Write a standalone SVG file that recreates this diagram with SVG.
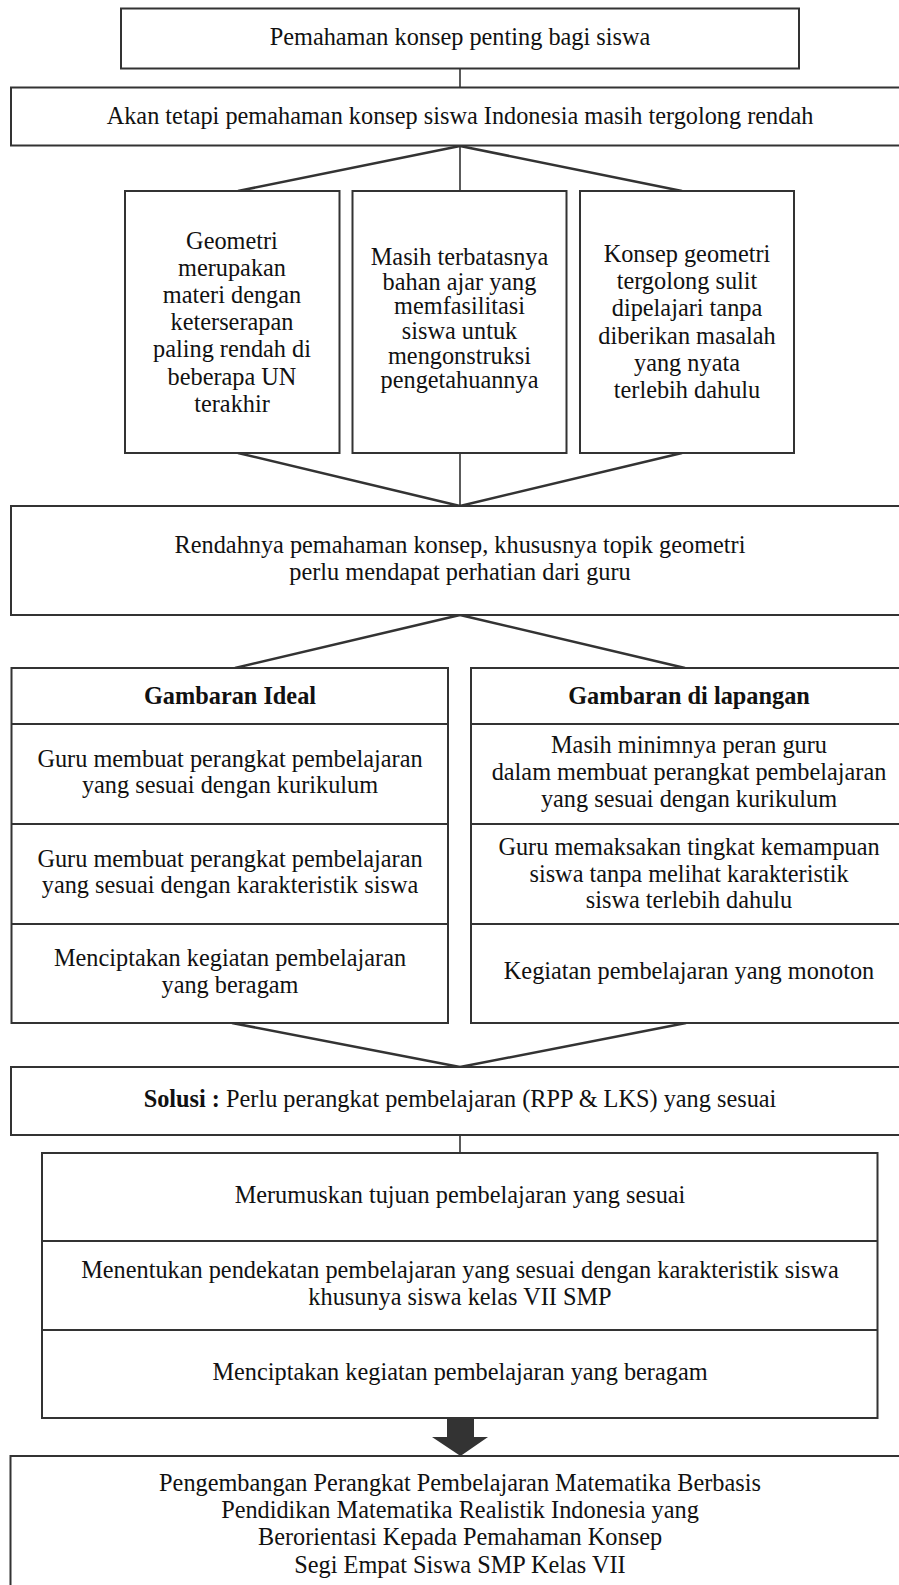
<svg xmlns="http://www.w3.org/2000/svg" width="899" height="1585" viewBox="0 0 899 1585">
<style>
.box{fill:#fff;stroke:#333;stroke-width:2}
.div{stroke:#333;stroke-width:2;fill:none}
.t{font-family:"Liberation Serif","Times New Roman",serif;font-size:24.3px;fill:#111;text-anchor:middle}
.b{font-weight:bold}
.c{stroke:#333;fill:none}
.d{stroke-width:2.5}
.v{stroke-width:1.6}
</style>
<rect width="899" height="1585" fill="#fff"/>
<g id="connectors">
<line class="c v" x1="460" y1="68" x2="460" y2="87"/>
<line class="c d" x1="460" y1="146" x2="238" y2="191"/>
<line class="c v" x1="460" y1="146" x2="460" y2="191"/>
<line class="c d" x1="460" y1="146" x2="682" y2="191"/>
<line class="c d" x1="238" y1="453" x2="460" y2="506"/>
<line class="c v" x1="460" y1="453" x2="460" y2="506"/>
<line class="c d" x1="682" y1="453" x2="460" y2="506"/>
<line class="c d" x1="460" y1="615" x2="235" y2="668"/>
<line class="c d" x1="460" y1="615" x2="685" y2="668"/>
<line class="c d" x1="232" y1="1023" x2="460" y2="1067"/>
<line class="c d" x1="686" y1="1023" x2="460" y2="1067"/>
<line class="c v" x1="460" y1="1135" x2="460" y2="1153"/>
<polygon points="447,1418 474,1418 474,1437 488,1437 460.5,1456 432,1437 447,1437" fill="#333"/>
</g>
<g id="n1">
<rect class="box" x="121" y="8.5" width="678" height="60"/>
<text class="t" x="460" y="45">Pemahaman konsep penting bagi siswa</text>
</g>
<g id="n2">
<rect class="box" x="11" y="87.5" width="895" height="58"/>
<text class="t" x="460" y="124">Akan tetapi pemahaman konsep siswa Indonesia masih tergolong rendah</text>
</g>
<g id="n3a">
<rect class="box" x="125" y="191" width="214.5" height="262"/>
<text class="t" x="232" y="249">Geometri</text>
<text class="t" x="232" y="276.1">merupakan</text>
<text class="t" x="232" y="303.2">materi dengan</text>
<text class="t" x="232" y="330.3">keterserapan</text>
<text class="t" x="232" y="357.4">paling rendah di</text>
<text class="t" x="232" y="384.5">beberapa UN</text>
<text class="t" x="232" y="411.6">terakhir</text>
</g>
<g id="n3b">
<rect class="box" x="352.5" y="191" width="214" height="262"/>
<text class="t" x="459.5" y="265">Masih terbatasnya</text>
<text class="t" x="459.5" y="289.7">bahan ajar yang</text>
<text class="t" x="459.5" y="314.3">memfasilitasi</text>
<text class="t" x="459.5" y="339">siswa untuk</text>
<text class="t" x="459.5" y="363.7">mengonstruksi</text>
<text class="t" x="459.5" y="388.3">pengetahuannya</text>
</g>
<g id="n3c">
<rect class="box" x="580" y="191" width="214" height="262"/>
<text class="t" x="687" y="261.7">Konsep geometri</text>
<text class="t" x="687" y="289">tergolong sulit</text>
<text class="t" x="687" y="316.3">dipelajari tanpa</text>
<text class="t" x="687" y="343.6">diberikan masalah</text>
<text class="t" x="687" y="371">yang nyata</text>
<text class="t" x="687" y="398.3">terlebih dahulu</text>
</g>
<g id="n4">
<rect class="box" x="11" y="506" width="895" height="109"/>
<text class="t" x="460" y="553">Rendahnya pemahaman konsep, khususnya topik geometri</text>
<text class="t" x="460" y="580">perlu mendapat perhatian dari guru</text>
</g>
<g id="n5a">
<rect class="box" x="11.5" y="668" width="436.5" height="355"/>
<line class="div" x1="11.5" y1="724" x2="448" y2="724"/>
<line class="div" x1="11.5" y1="824" x2="448" y2="824"/>
<line class="div" x1="11.5" y1="924" x2="448" y2="924"/>
<text class="t b" x="230" y="704">Gambaran Ideal</text>
<text class="t" x="230" y="767.3">Guru membuat perangkat pembelajaran</text>
<text class="t" x="230" y="793.3">yang sesuai dengan kurikulum</text>
<text class="t" x="230" y="866.7">Guru membuat perangkat pembelajaran</text>
<text class="t" x="230" y="893.3">yang sesuai dengan karakteristik siswa</text>
<text class="t" x="230" y="966">Menciptakan kegiatan pembelajaran</text>
<text class="t" x="230" y="992.7">yang beragam</text>
</g>
<g id="n5b">
<rect class="box" x="471" y="668" width="436" height="355"/>
<line class="div" x1="471" y1="724" x2="907" y2="724"/>
<line class="div" x1="471" y1="824" x2="907" y2="824"/>
<line class="div" x1="471" y1="924" x2="907" y2="924"/>
<text class="t b" x="689" y="704">Gambaran di lapangan</text>
<text class="t" x="689" y="753.3">Masih minimnya peran guru</text>
<text class="t" x="689" y="780">dalam membuat perangkat pembelajaran</text>
<text class="t" x="689" y="806.7">yang sesuai dengan kurikulum</text>
<text class="t" x="689" y="855">Guru memaksakan tingkat kemampuan</text>
<text class="t" x="689" y="881.7">siswa tanpa melihat karakteristik</text>
<text class="t" x="689" y="908.3">siswa terlebih dahulu</text>
<text class="t" x="689" y="979.3">Kegiatan pembelajaran yang monoton</text>
</g>
<g id="n6">
<rect class="box" x="11" y="1067" width="895" height="68"/>
<text class="t" x="460" y="1107"><tspan class="b">Solusi :</tspan> Perlu perangkat pembelajaran (RPP &amp; LKS) yang sesuai</text>
</g>
<g id="n7">
<rect class="box" x="42" y="1153" width="835.5" height="265"/>
<line class="div" x1="42" y1="1241" x2="877.5" y2="1241"/>
<line class="div" x1="42" y1="1330" x2="877.5" y2="1330"/>
<text class="t" x="460" y="1203">Merumuskan tujuan pembelajaran yang sesuai</text>
<text class="t" x="460" y="1278">Menentukan pendekatan pembelajaran yang sesuai dengan karakteristik siswa</text>
<text class="t" x="460" y="1304.5">khusunya siswa kelas VII SMP</text>
<text class="t" x="460" y="1380">Menciptakan kegiatan pembelajaran yang beragam</text>
</g>
<g id="n8">
<rect class="box" x="10.5" y="1456" width="896" height="140"/>
<text class="t" x="460" y="1490.5">Pengembangan Perangkat Pembelajaran Matematika Berbasis</text>
<text class="t" x="460" y="1518">Pendidikan Matematika Realistik Indonesia yang</text>
<text class="t" x="460" y="1545.3">Berorientasi Kepada Pemahaman Konsep</text>
<text class="t" x="460" y="1572.5">Segi Empat Siswa SMP Kelas VII</text>
</g>
</svg>
